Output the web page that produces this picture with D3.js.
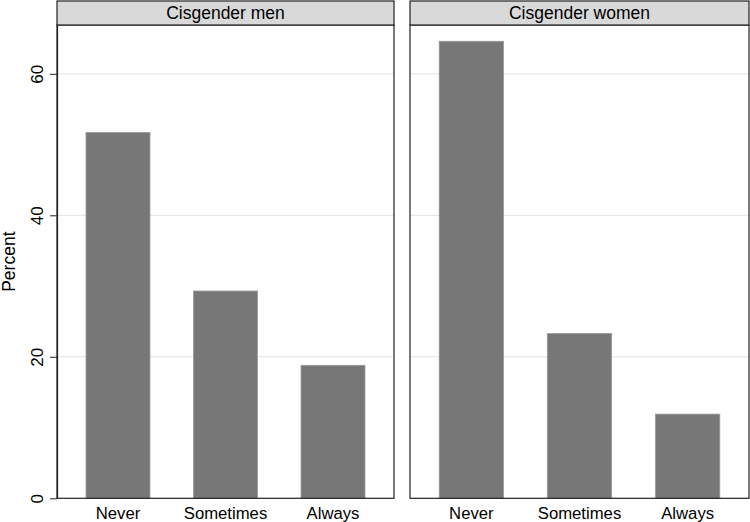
<!DOCTYPE html>
<html><head><meta charset="utf-8">
<script src="https://cdn.jsdelivr.net/npm/d3@7"></script>
<style>body{margin:0;background:#fff}svg{display:block;font-family:"Liberation Sans",Arial,sans-serif}</style>
</head><body><svg id="c" width="750" height="522"></svg>
<script>
const categories = ["Never", "Sometimes", "Always"];
const panels = ["Cisgender men", "Cisgender women"];
const menValues = [51.7, 29.3, 18.8];
const womenValues = [64.6, 23.3, 11.9];
const yTicks = [0, 20, 40, 60];
const yLabel = "Percent";

(function () {
const svg = d3.select("#c");
const plotTop = 25, plotBottom = 498.3;
const y = d3.scaleLinear().domain([0, 66.9]).range([plotBottom, plotTop]);
const panelDefs = [
  {name: panels[0], x0: 57, x1: 394, values: menValues},
  {name: panels[1], x0: 410, x1: 749, values: womenValues}
];

panelDefs.forEach((p, pi) => {
  const g = svg.append("g");
  const x = d3.scaleBand().domain(categories).range([p.x0, p.x1]).paddingInner(0.405).paddingOuter(0.27);
  g.selectAll("line.grid").data(yTicks.filter(t => t > 0)).join("line")
    .attr("x1", p.x0).attr("x2", p.x1)
    .attr("y1", d => y(d)).attr("y2", d => y(d))
    .attr("stroke", "#e3e3e3").attr("stroke-width", 1);
  g.selectAll("rect.bar").data(p.values).join("rect")
    .attr("x", (d, i) => x(categories[i]))
    .attr("width", x.bandwidth())
    .attr("y", d => y(d))
    .attr("height", d => y(0) - y(d))
    .attr("fill", "#777777").attr("stroke", "#9a9a9a").attr("stroke-width", 0.8);
  g.append("rect").attr("x", p.x0).attr("y", plotTop).attr("width", p.x1 - p.x0).attr("height", plotBottom - plotTop)
    .attr("fill", "none").attr("stroke", "#222").attr("stroke-width", 1.2);
  g.append("rect").attr("x", p.x0).attr("y", 1).attr("width", p.x1 - p.x0).attr("height", plotTop - 1)
    .attr("fill", "#d9d9d9").attr("stroke", "#222").attr("stroke-width", 1.2);
  g.append("text").attr("x", (p.x0 + p.x1) / 2).attr("y", 19)
    .attr("text-anchor", "middle").attr("font-size", 17.5).attr("fill", "#000").text(p.name);
  const xa = g.append("g").attr("transform", `translate(0,${plotBottom})`)
    .call(d3.axisBottom(x).tickSize(0).tickPadding(8.5));
  xa.select(".domain").remove();
  xa.selectAll("text").attr("font-size", 16.7).attr("fill", "#000").attr("font-family", "Liberation Sans, Arial, sans-serif");
  if (pi === 0) {
    const ya = g.append("g").attr("transform", `translate(${p.x0},0)`)
      .call(d3.axisLeft(y).tickValues(yTicks).tickSizeInner(7).tickSizeOuter(0).tickPadding(4));
    ya.select(".domain").attr("stroke", "#222").attr("stroke-width", 1.2);
    ya.selectAll(".tick line").attr("stroke", "#222");
    ya.selectAll(".tick text").attr("font-size", 17).attr("fill", "#000")
      .attr("font-family", "Liberation Sans, Arial, sans-serif")
      .attr("transform", "rotate(-90)").attr("x", 0).attr("y", -14).attr("dy", 0)
      .attr("text-anchor", "middle");
  }
});
svg.append("text").attr("transform", `translate(15,${(plotTop + plotBottom) / 2}) rotate(-90)`)
  .attr("text-anchor", "middle").attr("font-size", 17.5).attr("fill", "#000").text(yLabel);
})();
</script></body></html>
